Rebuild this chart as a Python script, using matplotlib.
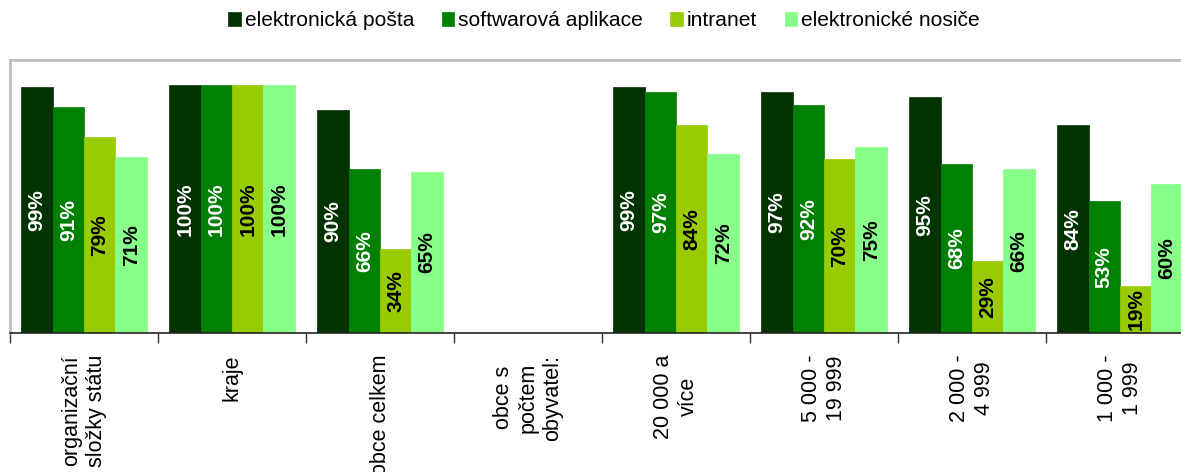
import numpy as np
import matplotlib
matplotlib.use("Agg")
import matplotlib.pyplot as plt

plt.rcParams['font.family'] = ['Liberation Sans', 'DejaVu Sans']

categories = ["organizační\nsložky státu", "kraje", "obce celkem",
              "obce s\npočtem\nobyvatel:", "20 000 a\nvíce", "5 000 -\n19 999",
              "2 000 -\n4 999", "1 000 -\n1 999"]
series_names = ["elektronická pošta", "softwarová aplikace", "intranet", "elektronické nosiče"]
elektronicka_posta = [99, 100, 90, np.nan, 99, 97, 95, 84]
softwarova_aplikace = [91, 100, 66, np.nan, 97, 92, 68, 53]
intranet = [79, 100, 34, np.nan, 84, 70, 29, 19]
elektronicke_nosice = [71, 100, 65, np.nan, 72, 75, 66, 60]
series_values = [elektronicka_posta, softwarova_aplikace, intranet, elektronicke_nosice]

colors = ["#003300", "#008000", "#99CC00", "#88FF88"]
label_colors = ["white", "white", "black", "black"]

W, H = 1181, 472
fig = plt.figure(figsize=(W / 100, H / 100), dpi=100)
ax = fig.add_axes([10 / W, (H - 333) / H, 1184 / W, (333 - 60) / H])

n = len(categories)
x = np.arange(n)
bw = 0.2125
handles = []
for k, (vals, c) in enumerate(zip(series_values, colors)):
    pos = x - 1.5 * bw + k * bw
    v = np.array(vals, dtype=float)
    bars = ax.bar(pos, v, width=bw, color=c, edgecolor=c, linewidth=0.5, label=series_names[k])
    handles.append(bars)
    for p, val in zip(pos, v):
        if np.isnan(val):
            continue
        ax.text(p, val / 2, f"{int(val)}%", rotation=90, ha='center', va='center',
                color=label_colors[k], fontsize=15, fontweight='bold')

ax.set_xlim(-0.5, n - 0.5)
ax.set_ylim(0, 110)
ax.set_yticks([])
ax.set_xticks(np.arange(n + 1) - 0.5)
ax.set_xticklabels([])
ax.set_xticks(x, minor=True)
ax.set_xticklabels(categories, minor=True, rotation=90, fontsize=15.5,
                   va='top', ha='center', multialignment='center')
ax.tick_params(axis='x', which='major', direction='out', length=7, width=1, color='#333333')
ax.tick_params(axis='x', which='minor', length=0, pad=15.5)

for s in ['top', 'left']:
    ax.spines[s].set_color('#C0C0C0')
    ax.spines[s].set_linewidth(2)
ax.spines['right'].set_visible(False)
ax.spines['bottom'].set_color('#222222')
ax.spines['bottom'].set_linewidth(1.2)

fig.legend(handles=handles, labels=series_names, loc='center', bbox_to_anchor=(604 / W, 1 - 21 / H),
           ncol=4, frameon=False, fontsize=15.1, handlelength=0.6, handleheight=0.6,
           handletextpad=0.2, columnspacing=1.3)

fig.savefig("out.png", dpi=100)
